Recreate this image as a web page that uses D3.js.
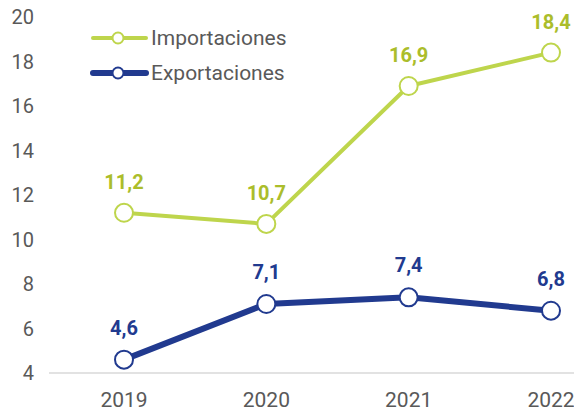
<!DOCTYPE html>
<html>
<head>
<meta charset="utf-8">
<script src="https://cdn.jsdelivr.net/npm/d3@7"></script>
<style>
body { margin: 0; background: #fff; }
svg { font-family: Roboto, "Open Sans", sans-serif; }
</style>
</head>
<body>
<svg id="chart" width="574" height="411"></svg>
<script>
// data
var years = ["2019", "2020", "2021", "2022"];
var importaciones = [11.2, 10.7, 16.9, 18.4];
var exportaciones = [4.6, 7.1, 7.4, 6.8];
var yTicks = [4, 6, 8, 10, 12, 14, 16, 18, 20];

var GREEN = "#bed54c", GREEN_TXT = "#abbd2b";
var BLUE = "#213a8f";
var GREY = "#595959";
var FS = 20;

var svg = d3.select("#chart");

var x = d3.scalePoint().domain(years).range([124, 551]);
var y = d3.scaleLinear().domain([4, 20]).range([373, 17]);

// y tick labels (no axis line)
svg.append("g").selectAll("text")
	.data(yTicks)
	.enter().append("text")
	.attr("x", 34)
	.attr("y", function(d) { return y(d); })
	.attr("dy", "0.35em")
	.attr("text-anchor", "end")
	.attr("font-size", FS)
	.attr("fill", GREY)
	.text(function(d) { return d; });

// baseline
svg.append("line")
	.attr("x1", 49).attr("x2", 574)
	.attr("y1", y(4)).attr("y2", y(4))
	.attr("stroke", "#d9d9d9")
	.attr("stroke-width", 1.5);

// x labels
svg.append("g").selectAll("text")
	.data(years)
	.enter().append("text")
	.attr("x", function(d) { return x(d); })
	.attr("y", 407)
	.attr("text-anchor", "middle")
	.attr("font-size", 21)
	.attr("fill", GREY)
	.text(function(d) { return d; });

function drawSeries(values, color, txtColor, width, offset)
{
	var line = d3.line()
		.x(function(d, i) { return x(years[i]); })
		.y(function(d) { return y(d); });

	svg.append("path")
		.attr("d", line(values))
		.attr("fill", "none")
		.attr("stroke", color)
		.attr("stroke-width", width)
		.attr("stroke-linejoin", "round");

	svg.append("g").selectAll("circle")
		.data(values)
		.enter().append("circle")
		.attr("cx", function(d, i) { return x(years[i]); })
		.attr("cy", function(d) { return y(d); })
		.attr("r", 9)
		.attr("fill", "#fff")
		.attr("stroke", color)
		.attr("stroke-width", 2);

	svg.append("g").selectAll("text")
		.data(values)
		.enter().append("text")
		.attr("x", function(d, i) { return x(years[i]); })
		.attr("y", function(d) { return y(d) - offset; })
		.attr("dy", "0.35em")
		.attr("text-anchor", "middle")
		.attr("font-size", FS)
		.attr("font-weight", "bold")
		.attr("fill", txtColor)
		.text(function(d) { return String(d).replace(".", ","); });
}

drawSeries(importaciones, GREEN, GREEN_TXT, 4, 31);
drawSeries(exportaciones, BLUE, BLUE, 6, 32);

// legend
var legend = [
	{ name: "Importaciones", color: GREEN, w: 4 },
	{ name: "Exportaciones", color: BLUE, w: 6 }
];
var lg = svg.append("g").selectAll("g")
	.data(legend)
	.enter().append("g")
	.attr("transform", function(d, i) { return "translate(0," + (38 + i * 35) + ")"; });

lg.append("line")
	.attr("x1", 93).attr("x2", 146)
	.attr("stroke", function(d) { return d.color; })
	.attr("stroke-width", function(d) { return d.w; })
	.attr("stroke-linecap", "round");
lg.append("circle")
	.attr("cx", 118).attr("r", 5.5)
	.attr("fill", "#fff")
	.attr("stroke", function(d) { return d.color; })
	.attr("stroke-width", 2);
lg.append("text")
	.attr("x", 151)
	.attr("dy", "0.35em")
	.attr("font-size", 21)
	.attr("fill", GREY)
	.text(function(d) { return d.name; });
</script>
</body>
</html>
